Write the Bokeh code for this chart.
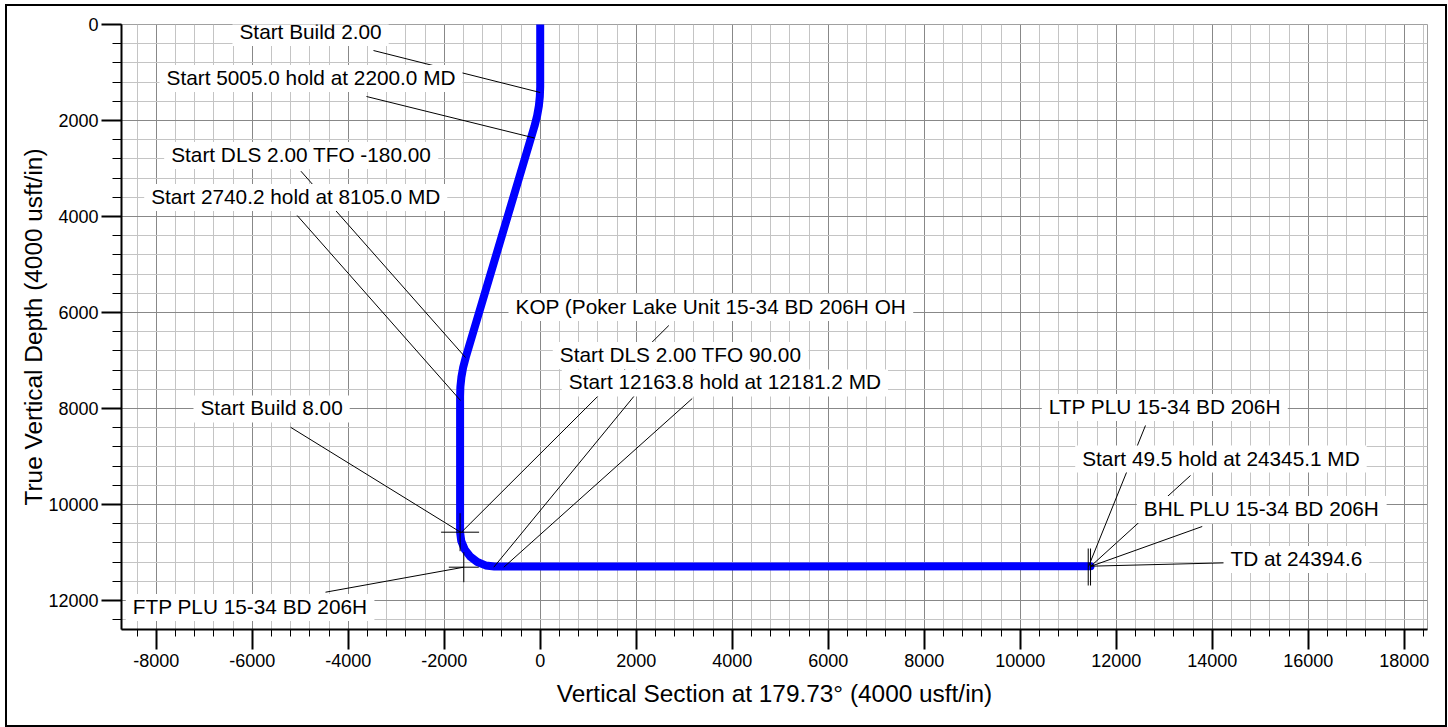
from bokeh.plotting import figure
from bokeh.models import Range1d, SingleIntervalTicker, NumeralTickFormatter, ColumnDataSource
from bokeh.embed import file_html
from bokeh.resources import INLINE
from bokeh.core.properties import value

FONT = "Liberation Sans"

# ---------------- data ----------------
# well path: vertical section (usft) and true vertical depth (usft)
path_vs = [0, 0, -8, -28, -63, -119, -1550, -1607, -1642, -1663, -1669,
           -1669, -1645, -1573, -1459, -1311, -1138, -953, 11465]
path_tvd = [0, 1300, 1500, 1699, 1896, 2118, 6930, 7153, 7350, 7549, 7749,
            10577, 10762, 10935, 11083, 11197, 11269, 11293, 11287]

ann_text = [
    "Start Build 2.00",
    "Start 5005.0 hold at 2200.0 MD",
    "Start DLS 2.00 TFO -180.00",
    "Start 2740.2 hold at 8105.0 MD",
    "KOP (Poker Lake Unit 15-34 BD 206H OH",
    "Start DLS 2.00 TFO 90.00",
    "Start 12163.8 hold at 12181.2 MD",
    "Start Build 8.00",
    "FTP PLU 15-34 BD 206H",
    "LTP PLU 15-34 BD 206H",
    "Start 49.5 hold at 24345.1 MD",
    "BHL PLU 15-34 BD 206H",
    "TD at 24394.6",
]
# points on the path that each annotation refers to
ann_target_vs = [0, -119, -1556, -1660, -1640, -967, -758, -1660, -1592,
                 11423, 11465, 11465, 11465]
ann_target_tvd = [1417, 2365, 6938, 7833, 10577, 11306, 11306, 10577, 11306,
                  11292, 11290, 11290, 11285]

# target markers
cross_vs = [-1669, -1592]
cross_tvd = [10577, 11306]
bar_vs = [11417, 11465]
bar_tvd = [11302, 11302]

# ---------------- layout of the annotation boxes ----------------
label_x = [-6411, -7931, -7834, -8250, -660, 262, 450, -7223, -8634,
           10450, 11146, 12429, 14235]
label_y = [166, 1125, 2729, 3604, 5896, 6896, 7468, 8010, 12146,
           7979, 9052, 10104, 11146]
leader_x = [-3473, -3619, -4985, -5063, 2679, 2394, 3167, -5202, -4473,
            12610, 13548, 13792, 14285]
leader_y = [542, 1500, 3056, 3979, 6271, 7208, 7792, 8390, 11827,
            8354, 9396, 10458, 11215]

p = figure(width=1438, height=719,
           x_range=Range1d(-8723, 18485), y_range=Range1d(12604, 0),
           output_backend="svg", toolbar_location=None,
           min_border_left=114, min_border_right=18,
           min_border_top=18, min_border_bottom=96,
           background_fill_color="white", border_fill_color="white",
           outline_line_color="#a0a0a0", outline_line_width=1)

# outer black frame of the drawing
p.styles = {"margin-left": "7px", "margin-top": "6px",
            "box-shadow": "0 0 0 2px black"}

for ax, minor_len in ((p.xaxis[0], 7), (p.yaxis[0], 9)):
    ax.ticker = SingleIntervalTicker(interval=2000, num_minor_ticks=5)
    ax.formatter = NumeralTickFormatter(format="0")
    ax.axis_line_color = "black"
    ax.axis_line_width = 2
    ax.major_tick_out = 20
    ax.major_tick_in = 0
    ax.minor_tick_out = minor_len
    ax.minor_tick_in = 0
    ax.major_tick_line_width = 2
    ax.major_tick_line_color = "black"
    ax.minor_tick_line_width = 1
    ax.minor_tick_line_color = "black"
    ax.major_label_text_font = FONT
    ax.major_label_text_font_size = "18px"
    ax.major_label_text_color = "black"
    ax.axis_label_text_font = FONT
    ax.axis_label_text_font_size = "24.4px"
    ax.axis_label_text_font_style = "normal"
    ax.axis_label_text_color = "black"

p.xaxis.axis_label = "Vertical Section at 179.73\u00b0 (4000 usft/in)"
p.yaxis.axis_label = "True Vertical Depth (4000 usft/in)"
p.xaxis.major_label_standoff = 4
p.xaxis.axis_label_standoff = 10
p.yaxis.major_label_standoff = 3
p.yaxis.axis_label_standoff = -2

p.grid.grid_line_color = "#888888"
p.grid.grid_line_width = 1
p.grid.minor_grid_line_color = "#c4c4c4"
p.grid.minor_grid_line_width = 1

# well path
p.line(path_vs, path_tvd, line_color="#0000ff", line_width=8,
       line_cap="round", line_join="round")

# target markers
p.scatter(cross_vs[:1], cross_tvd[:1], marker="cross", size=38,
          line_color="black", line_width=1)
p.scatter(cross_vs[1:], cross_tvd[1:], marker="cross", size=30,
          line_color="black", line_width=1)
p.scatter(bar_vs, bar_tvd, marker="dash", size=37, angle=1.5708,
          line_color="black", line_width=1)

# leader lines
p.segment(x0=leader_x, y0=leader_y, x1=ann_target_vs, y1=ann_target_tvd,
          line_color="black", line_width=1)

# annotation texts with white boxes
src = ColumnDataSource(dict(x=label_x, y=label_y, text=ann_text))
p.text(x="x", y="y", text="text", source=src,
       text_font=value(FONT), text_font_size="20.8px", text_color="black",
       text_align="left", text_baseline="alphabetic",
       background_fill_color="white",
       padding=dict(left=7, right=7, top=1, bottom=3))

open("out.html", "w").write(file_html(p, INLINE))
